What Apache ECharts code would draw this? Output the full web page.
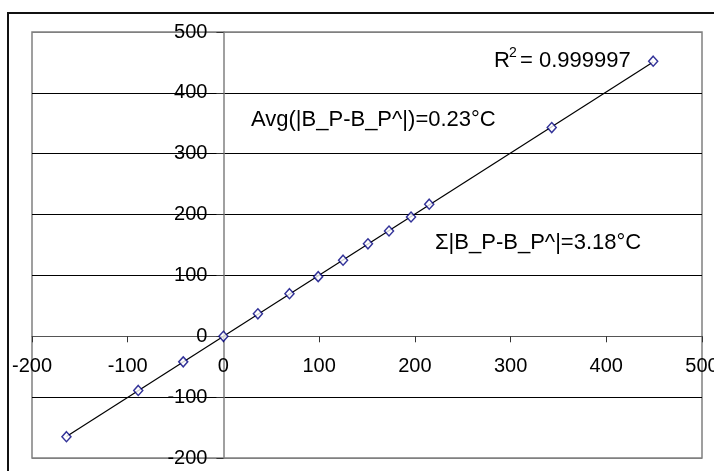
<!DOCTYPE html>
<html>
<head>
<meta charset="utf-8">
<script src="https://cdn.jsdelivr.net/npm/echarts@6/dist/echarts.min.js"></script>
<style>
html,body{margin:0;padding:0;background:#fff;}
#chart{width:714px;height:471px;}
</style>
</head>
<body>
<div id="chart"></div>
<script>
// Data
const xValues = [-164, -89, -42, 0, 36, 69, 99, 125, 151, 173, 196, 215, 343, 449];
const yValues = [-165, -89, -42, 0, 37, 70, 98, 125, 152, 173, 196, 217, 343, 452];
const xTicks = [-200, -100, 0, 100, 200, 300, 400, 500];
const yTicks = [-200, -100, 0, 100, 200, 300, 400, 500];
const r2Text = 'R';
const r2Sup = '2';
const r2Value = '= 0.999997';
const avgText = 'Avg(|B_P-B_P^|)=0.23°C';
const sumText = 'Σ|B_P-B_P^|=3.18°C';

// Linear trendline from data (least squares)
const n = xValues.length;
const mx = xValues.reduce((a, b) => a + b, 0) / n;
const my = yValues.reduce((a, b) => a + b, 0) / n;
let sxy = 0, sxx = 0;
for (let i = 0; i < n; i++) { sxy += (xValues[i] - mx) * (yValues[i] - my); sxx += (xValues[i] - mx) ** 2; }
const slope = sxy / sxx;
const intercept = my - slope * mx;
const xMin = Math.min(...xValues), xMax = Math.max(...xValues);
const trend = [[xMin, slope * xMin + intercept], [xMax, slope * xMax + intercept]];

const points = xValues.map((x, i) => [x, yValues[i]]);
const font = 'Liberation Sans, Arial, sans-serif';

// grid geometry
const W = 714, H = 471;
const gL = 32, gT = 32, gR = 12, gB = 13;
const gW = W - gL - gR, gH = H - gT - gB;
const xLo = xTicks[0], xHi = xTicks[xTicks.length - 1];
const yLo = yTicks[0], yHi = yTicks[yTicks.length - 1];
// axes cross at zero: shift axes from the grid edges to the zero line
const xAxisOffset = -gH * (0 - yLo) / (yHi - yLo);
const yAxisOffset = -gW * (0 - xLo) / (xHi - xLo);

const chart = echarts.init(document.getElementById('chart'), null, { renderer: 'canvas' });
const splitColors = yTicks.map((v, i) => (i === 0 || i === yTicks.length - 1) ? '#808080' : '#000000');

chart.setOption({
  animation: false,
  backgroundColor: '#ffffff',
  grid: { left: gL, top: gT, right: gR, bottom: gB, containLabel: false, outerBoundsMode: 'none', show: true, borderColor: '#808080', borderWidth: 1.5, backgroundColor: 'transparent' },
  xAxis: {
    type: 'value', min: xLo, max: xHi, interval: 100, position: 'bottom', offset: xAxisOffset,
    axisLine: { onZero: false, lineStyle: { color: '#555555', width: 1 } },
    axisTick: { show: true, inside: false, length: 6, lineStyle: { color: '#333333' } },
    axisLabel: { color: '#000', fontSize: 20, fontFamily: font, margin: 20, showMinLabel: true, showMaxLabel: true, hideOverlap: false },
    splitLine: { show: false }
  },
  yAxis: {
    type: 'value', min: yLo, max: yHi, interval: 100, position: 'left', offset: yAxisOffset,
    axisLine: { onZero: false, lineStyle: { color: '#808080', width: 1.5 } },
    axisTick: { show: true, inside: false, length: 7, lineStyle: { color: '#333333' } },
    axisLabel: { color: '#000', fontSize: 20, fontFamily: font, margin: 16, showMinLabel: true, showMaxLabel: true, hideOverlap: false },
    splitLine: { show: true, lineStyle: { color: splitColors, width: 1 } }
  },
  series: [
    {
      type: 'line', data: trend, symbol: 'none', silent: true,
      lineStyle: { color: '#000', width: 1.2 }, z: 2
    },
    {
      type: 'scatter', data: points, symbol: 'diamond', symbolSize: [9, 10],
      itemStyle: { color: '#ffffff', borderColor: '#000080', borderWidth: 1.5 }, z: 3
    }
  ],
  graphic: [
    { type: 'rect', shape: { x: 8, y: 13, width: 760, height: 520 }, style: { fill: 'none', stroke: '#111', lineWidth: 2 }, silent: true, z: 100 },
    { type: 'text', x: 494, y: 61, style: { text: r2Text, font: '22px ' + font, fill: '#000', verticalAlign: 'middle' }, z: 100 },
    { type: 'text', x: 509, y: 53, style: { text: r2Sup, font: '14px ' + font, fill: '#000', verticalAlign: 'middle' }, z: 100 },
    { type: 'text', x: 520, y: 61, style: { text: r2Value, font: '22px ' + font, fill: '#000', verticalAlign: 'middle' }, z: 100 },
    { type: 'text', x: 251, y: 120, style: { text: avgText, font: '22px ' + font, fill: '#000', verticalAlign: 'middle' }, z: 100 },
    { type: 'text', x: 435, y: 243, style: { text: sumText, font: '22px ' + font, fill: '#000', verticalAlign: 'middle' }, z: 100 }
  ]
});
</script>
</body>
</html>
